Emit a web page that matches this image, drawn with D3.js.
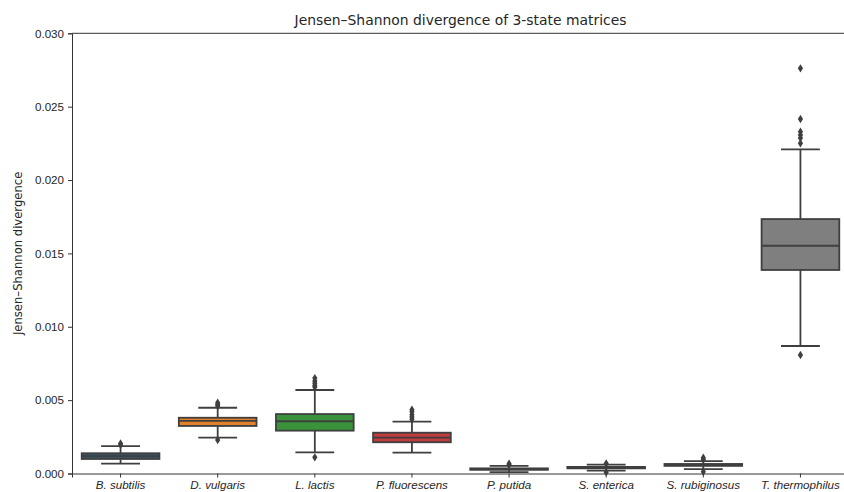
<!DOCTYPE html>
<html>
<head>
<meta charset="utf-8">
<script src="https://cdn.jsdelivr.net/npm/d3@7"></script>
<style>
  html, body { margin: 0; padding: 0; background: #fff; overflow: hidden; }
  svg { display: block; font-family: "DejaVu Sans", sans-serif; }
</style>
</head>
<body>
<div id="chart"></div>
<script>
// species on the x axis
const species = ["B. subtilis", "D. vulgaris", "L. lactis", "P. fluorescens",
  "P. putida", "S. enterica", "S. rubiginosus", "T. thermophilus"];

// box statistics
const whiskLo = [0.00067, 0.00244, 0.00144, 0.00142, 0.00010, 0.00020, 0.00030, 0.00869];
const q1 = [0.00099, 0.00324, 0.00292, 0.00213, 0.00025, 0.00035, 0.00052, 0.01387];
const median = [0.00119, 0.00358, 0.00356, 0.00244, 0.00030, 0.00039, 0.00058, 0.01552];
const q3 = [0.00138, 0.00380, 0.00405, 0.00278, 0.00035, 0.00045, 0.00065, 0.01734];
const whiskHi = [0.00187, 0.00448, 0.00569, 0.00353, 0.00052, 0.00060, 0.00085, 0.02209];
const outliers = [
  [0.00195, 0.00205],
  [0.00460, 0.00470, 0.00483, 0.00228],
  [0.00590, 0.00600, 0.00615, 0.00630, 0.00650, 0.00110],
  [0.00370, 0.00385, 0.00400, 0.00420, 0.00435],
  [0.00060, 0.00066],
  [0.00068, 0.00008],
  [0.00095, 0.00108, 0.00012],
  [0.02761, 0.02416, 0.02329, 0.02307, 0.02286, 0.02250, 0.00808]
];
const colors = ["#355468", "#e1812c", "#3a923a", "#c03d3e",
  "#9372b2", "#845b53", "#d684bd", "#7f7f7f"];
const yTicks = [0, 0.005, 0.01, 0.015, 0.02, 0.025, 0.03];

const width = 844, height = 492;
const mLeft = 72, mRight = 849, mTop = 33.3, mBottom = 473.5;
const edge = "#3f3f3f";

const svg = d3.select("#chart").append("svg")
  .attr("width", width).attr("height", height)
  .attr("viewBox", [0, 0, width, height]);

const x = d3.scaleBand().domain(species).range([mLeft, mRight]).padding(0);
const y = d3.scaleLinear().domain([0, 0.03]).range([mBottom, mTop]);
const bw = x.bandwidth() * 0.8;

// axes
const yAxis = svg.append("g")
  .attr("transform", `translate(${mLeft},0)`)
  .call(d3.axisLeft(y).tickValues(yTicks).tickFormat(d3.format(".3f")).tickSizeOuter(0).tickSize(4).tickPadding(4));
const xAxis = svg.append("g")
  .attr("transform", `translate(0,${mBottom})`)
  .call(d3.axisBottom(x).tickSizeOuter(0).tickSize(4).tickPadding(3));
[yAxis, xAxis].forEach(g => {
  g.selectAll("path, line").attr("stroke", "#333").attr("stroke-width", 1);
  g.selectAll("text").attr("fill", "#262626").style("font-size", "11.6px");
});
xAxis.selectAll("text").style("font-style", "italic");

// top spine (right one falls outside the picture)
svg.append("line")
  .attr("x1", mLeft).attr("x2", mRight).attr("y1", mTop).attr("y2", mTop)
  .attr("stroke", "#333");

// boxes
const g = svg.append("g");
species.forEach((s, i) => {
  const cx = x(s) + x.bandwidth() / 2;
  const b = g.append("g");
  // whiskers
  b.append("line").attr("x1", cx).attr("x2", cx)
    .attr("y1", y(q3[i])).attr("y2", y(whiskHi[i]))
    .attr("stroke", edge).attr("stroke-width", 1.8);
  b.append("line").attr("x1", cx).attr("x2", cx)
    .attr("y1", y(q1[i])).attr("y2", y(whiskLo[i]))
    .attr("stroke", edge).attr("stroke-width", 1.8);
  // caps
  [whiskLo[i], whiskHi[i]].forEach(v => {
    b.append("line").attr("x1", cx - bw / 4).attr("x2", cx + bw / 4)
      .attr("y1", y(v)).attr("y2", y(v))
      .attr("stroke", edge).attr("stroke-width", 1.8);
  });
  // box
  b.append("rect")
    .attr("x", cx - bw / 2).attr("width", bw)
    .attr("y", y(q3[i])).attr("height", Math.max(0.1, y(q1[i]) - y(q3[i])))
    .attr("fill", colors[i]).attr("stroke", edge).attr("stroke-width", 1.8);
  // median
  b.append("line").attr("x1", cx - bw / 2).attr("x2", cx + bw / 2)
    .attr("y1", y(median[i])).attr("y2", y(median[i]))
    .attr("stroke", edge).attr("stroke-width", 1.8);
  // outliers
  b.selectAll("path.out").data(outliers[i]).join("path")
    .attr("class", "out")
    .attr("d", "M0,-4.2L2.6,0L0,4.2L-2.6,0Z")
    .attr("transform", d => `translate(${cx},${y(d)})`)
    .attr("fill", edge);
});

// title and y label
svg.append("text")
  .attr("x", (mLeft + mRight) / 2).attr("y", 25)
  .attr("text-anchor", "middle").attr("fill", "#262626")
  .style("font-size", "13.9px")
  .text("Jensen–Shannon divergence of 3-state matrices");
svg.append("text")
  .attr("transform", `translate(22,${(mTop + mBottom) / 2}) rotate(-90)`)
  .attr("text-anchor", "middle").attr("fill", "#262626")
  .style("font-size", "11.6px")
  .text("Jensen–Shannon divergence");
</script>
</body>
</html>
